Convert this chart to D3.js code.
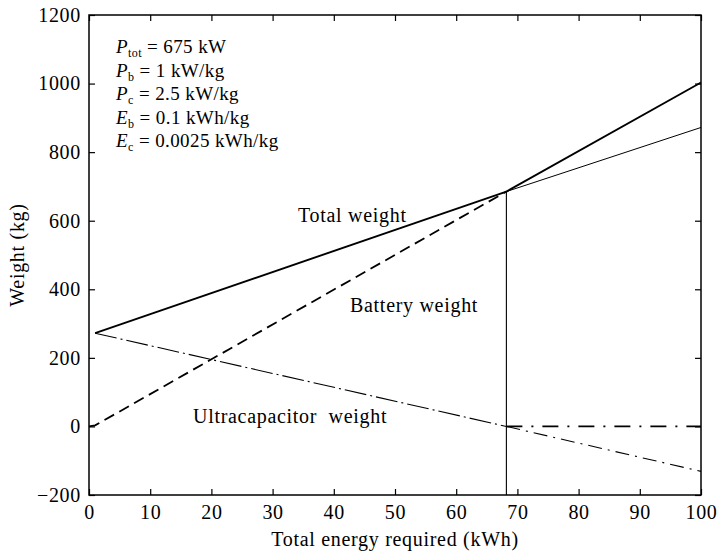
<!DOCTYPE html>
<html>
<head>
<meta charset="utf-8">
<script src="https://cdn.jsdelivr.net/npm/d3@7"></script>
<style>
  html, body { margin: 0; padding: 0; background: #fff; }
  svg text { font-family: "Liberation Serif", "Times New Roman", serif; fill: #000; }
</style>
</head>
<body>
<svg id="chart" width="718" height="555"></svg>
<script>
// ---- data ----
const xTicks = [0, 10, 20, 30, 40, 50, 60, 70, 80, 90, 100];
const yTicks = [-200, 0, 200, 400, 600, 800, 1000, 1200];

const switchEnergy = 68.2;       // energy where ultracapacitor weight reaches 0
const switchWeight = 685;

const totalEnergy = [1, 68.2];
const totalWeight = [272, 685];

const totalExtEnergy = [68.2, 100];    // unconstrained total (thin)
const totalExtWeight = [685, 872];

const batteryEnergy = [0, 1, 68.2];
const batteryWeight = [0, 3, 685];

const batteryExtEnergy = [68.2, 100];  // battery-only total (thick)
const batteryExtWeight = [685, 1003];

const ucapEnergy = [1, 68.2];
const ucapWeight = [272, 0];

const ucapExtEnergy = [68.2, 100];
const ucapExtWeight = [0, -131];

const ucapZeroEnergy = [68.2, 100];
const ucapZeroWeight = [0, 0];

const params = [
  ["P", "tot", " = 675 kW"],
  ["P", "b", " = 1 kW/kg"],
  ["P", "c", " = 2.5 kW/kg"],
  ["E", "b", " = 0.1 kWh/kg"],
  ["E", "c", " = 0.0025 kWh/kg"]
];

// ---- layout ----
const svg = d3.select("#chart");
const L = 89, R = 701, T = 15, B = 495;
const x = d3.scaleLinear().domain([0, 100]).range([L, R]);
const y = d3.scaleLinear().domain([-200, 1200]).range([B, T]);

const zip = (a, b) => a.map((v, i) => [v, b[i]]);
const line = d3.line().x(d => x(d[0])).y(d => y(d[1]));

function draw(ex, wy, width, dash) {
  svg.append("path")
    .attr("d", line(zip(ex, wy)))
    .attr("fill", "none")
    .attr("stroke", "#000")
    .attr("stroke-width", width)
    .attr("stroke-dasharray", dash || null);
}

// axes (ticks inward on all four sides)
const fs = 20;
const ls = 0.7;
const axB = d3.axisBottom(x).tickValues(xTicks).tickSizeInner(-6).tickSizeOuter(0).tickPadding(10);
const axT = d3.axisTop(x).tickValues(xTicks).tickSizeInner(-6).tickSizeOuter(0).tickFormat("");
const axLft = d3.axisLeft(y).tickValues(yTicks).tickSizeInner(-6).tickSizeOuter(0).tickPadding(8)
  .tickFormat(d => d < 0 ? "\u2212" + Math.abs(d) : d);
const axRgt = d3.axisRight(y).tickValues(yTicks).tickSizeInner(-6).tickSizeOuter(0).tickFormat("");

function style(g) {
  g.select(".domain").remove();
  g.selectAll("line").attr("stroke", "#000").attr("stroke-width", 1.2);
  g.selectAll("text").attr("font-size", fs).attr("letter-spacing", ls)
    .attr("font-family", "Liberation Serif").attr("fill", "#000");
}
svg.append("g").attr("transform", `translate(0,${B})`).call(axB).call(style);
svg.append("g").attr("transform", `translate(0,${T})`).call(axT).call(style);
svg.append("g").attr("transform", `translate(${L},0)`).call(axLft).call(style);
svg.append("g").attr("transform", `translate(${R},0)`).call(axRgt).call(style);

svg.append("rect").attr("x", L).attr("y", T).attr("width", R - L).attr("height", B - T)
  .attr("fill", "none").attr("stroke", "#000").attr("stroke-width", 1.5);

// series
draw(ucapEnergy, ucapWeight, 1.1, "22,4,2,4");
draw(ucapExtEnergy, ucapExtWeight, 1.1, "14,6,2,6");
draw(ucapZeroEnergy, ucapZeroWeight, 1.8, "16,9,2,9");
draw(batteryEnergy, batteryWeight, 1.8, "11,6");
draw(totalExtEnergy, totalExtWeight, 1.0);
draw(batteryExtEnergy, batteryExtWeight, 1.9);
draw(totalEnergy, totalWeight, 1.9);

// vertical switch line
svg.append("line")
  .attr("x1", x(switchEnergy)).attr("x2", x(switchEnergy))
  .attr("y1", B).attr("y2", y(switchWeight))
  .attr("stroke", "#000").attr("stroke-width", 1.1);

// annotations
function label(txt, px, py) {
  return svg.append("text").attr("x", px).attr("y", py)
    .attr("font-size", fs).attr("letter-spacing", ls)
    .style("white-space", "pre").text(txt);
}
label("Total weight", 298, 222);
label("Battery weight", 350, 312);
label("Ultracapacitor\u00a0\u00a0weight", 193, 423);

// parameter block
params.forEach((p, i) => {
  const t = svg.append("text").attr("x", 116).attr("y", 53 + i * 23.6)
    .attr("font-size", fs - 1).attr("letter-spacing", 0.4);
  t.append("tspan").attr("font-style", "italic").text(p[0]);
  t.append("tspan").attr("font-size", 12).attr("dy", 4).text(p[1]);
  t.append("tspan").attr("dy", -4).text(p[2]);
});

// axis titles
svg.append("text").attr("x", (L + R) / 2).attr("y", 546).attr("text-anchor", "middle")
  .attr("font-size", fs).attr("letter-spacing", ls).text("Total energy required (kWh)");
svg.append("text").attr("transform", `translate(24,${(T + B) / 2}) rotate(-90)`)
  .attr("text-anchor", "middle").attr("font-size", fs).attr("letter-spacing", ls).text("Weight (kg)");
</script>
</body>
</html>
